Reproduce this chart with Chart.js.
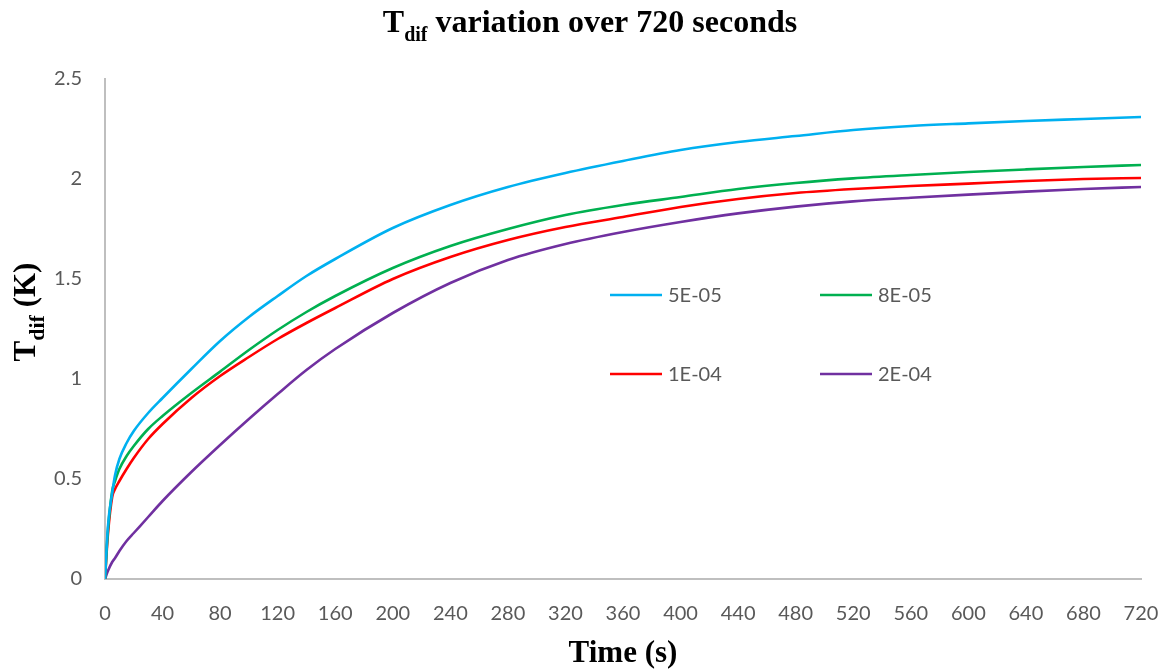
<!DOCTYPE html>
<html>
<head>
<meta charset="utf-8">
<script src="https://cdn.jsdelivr.net/npm/chart.js@4/dist/chart.umd.min.js"></script>
<style>
  html, body { margin: 0; padding: 0; background: #ffffff; }
  #wrap { width: 1169px; height: 670px; position: relative; }
</style>
</head>
<body>
<div id="wrap"><canvas id="c" width="1169" height="670"></canvas></div>
<script>
// ---- data ----
const timeSeconds = [0, 2, 5, 7, 10, 15, 20, 30, 40, 60, 80, 100, 120, 140, 160, 200, 240, 280, 320, 360, 400, 440, 480, 520, 560, 600, 640, 680, 720];
const series5E05 = [0, 0.26, 0.43, 0.52, 0.60, 0.68, 0.74, 0.83, 0.905, 1.05, 1.19, 1.31, 1.415, 1.515, 1.60, 1.755, 1.87, 1.96, 2.03, 2.09, 2.145, 2.185, 2.215, 2.245, 2.265, 2.278, 2.29, 2.30, 2.31];
const series8E05 = [0, 0.24, 0.44, 0.49, 0.55, 0.615, 0.665, 0.75, 0.815, 0.93, 1.037, 1.145, 1.245, 1.335, 1.415, 1.555, 1.665, 1.75, 1.82, 1.87, 1.91, 1.95, 1.98, 2.003, 2.02, 2.035, 2.048, 2.06, 2.07];
const series1E04 = [0, 0.22, 0.41, 0.45, 0.49, 0.55, 0.605, 0.70, 0.775, 0.905, 1.015, 1.11, 1.20, 1.28, 1.355, 1.50, 1.61, 1.695, 1.76, 1.81, 1.86, 1.90, 1.93, 1.95, 1.965, 1.977, 1.99, 2.0, 2.005];
const series2E04 = [0, 0.04, 0.085, 0.105, 0.14, 0.19, 0.23, 0.31, 0.39, 0.535, 0.67, 0.80, 0.925, 1.045, 1.15, 1.33, 1.48, 1.595, 1.675, 1.735, 1.785, 1.828, 1.862, 1.888, 1.906, 1.922, 1.937, 1.95, 1.96];
const seriesLabels = ['5E-05', '8E-05', '1E-04', '2E-04'];
const xTickStep = 40;
const yTickStep = 0.5;

const colors = ['#00B0F0', '#00B050', '#FF0000', '#7030A0'];
const allSeries = [series5E05, series8E05, series1E04, series2E04];

const datasets = allSeries.map((vals, i) => ({
  label: seriesLabels[i],
  data: timeSeconds.map((t, k) => ({ x: t, y: vals[k] })),
  borderColor: colors[i],
  backgroundColor: colors[i],
  borderWidth: 2.6,
  pointRadius: 0,
  pointHoverRadius: 0,
  fill: false,
  cubicInterpolationMode: 'monotone'
}));

const TICK_FONT = 'Lato, "Open Sans", sans-serif';
const SERIF = '"Liberation Serif", "DejaVu Serif", serif';

function drawSubText(ctx, x, y, size, main, sub, rest, align, subScale) {
  const big = 'bold ' + size + 'px ' + SERIF;
  const small = 'bold ' + Math.round(size * subScale) + 'px ' + SERIF;
  ctx.font = big; const w1 = ctx.measureText(main).width;
  const w3 = ctx.measureText(rest).width;
  ctx.font = small; const w2 = ctx.measureText(sub).width;
  const total = w1 + w2 + w3;
  const sx = align === 'center' ? x - total / 2 : x;
  ctx.fillStyle = '#000000';
  ctx.textBaseline = 'alphabetic';
  ctx.textAlign = 'left';
  ctx.font = big; ctx.fillText(main, sx, y);
  ctx.font = small; ctx.fillText(sub, sx + w1, y + size * 0.28);
  ctx.font = big; ctx.fillText(rest, sx + w1 + w2, y);
}

const decorPlugin = {
  id: 'decor',
  afterDraw(chart) {
    const ctx = chart.ctx;
    const area = chart.chartArea;
    ctx.save();
    // title
    drawSubText(ctx, 590, 32, 32, 'T', 'dif', ' variation over 720 seconds', 'center', 0.62);
    // y axis title (rotated)
    ctx.save();
    ctx.translate(35, 312);
    ctx.rotate(-Math.PI / 2);
    drawSubText(ctx, 0, 0, 31, 'T', 'dif', ' (K)', 'center', 0.7);
    ctx.restore();
    // x axis title
    ctx.font = 'bold 31px ' + SERIF;
    ctx.fillStyle = '#000000';
    ctx.textAlign = 'center';
    ctx.textBaseline = 'alphabetic';
    ctx.fillText('Time (s)', (area.left + area.right) / 2, 662);

    // legend (2 x 2, inside plot)
    const cols = [610, 820];
    const rows = [295, 374];
    ctx.font = '20px ' + TICK_FONT;
    ctx.textBaseline = 'middle';
    ctx.textAlign = 'left';
    chart.data.datasets.forEach((ds, i) => {
      const lx = cols[i % 2];
      const ly = rows[Math.floor(i / 2)];
      ctx.strokeStyle = ds.borderColor;
      ctx.lineWidth = 2.6;
      ctx.beginPath();
      ctx.moveTo(lx, ly);
      ctx.lineTo(lx + 52, ly);
      ctx.stroke();
      ctx.fillStyle = '#595959';
      ctx.fillText(ds.label, lx + 58, ly + 1);
    });
    ctx.restore();
  }
};

new Chart(document.getElementById('c'), {
  type: 'line',
  data: { datasets },
  plugins: [decorPlugin],
  options: {
    responsive: false,
    animation: false,
    events: [],
    layout: { padding: { top: 79, right: 28, left: 0, bottom: 0 } },
    plugins: {
      legend: { display: false },
      title: { display: false },
      tooltip: { enabled: false }
    },
    scales: {
      x: {
        type: 'linear',
        min: 0,
        max: 720,
        grid: { display: false, drawTicks: false },
        border: { display: true, color: '#BFBFBF', width: 2 },
        ticks: {
          stepSize: xTickStep,
          padding: 23,
          color: '#595959',
          font: { family: TICK_FONT, size: 20 },
          maxRotation: 0,
          autoSkip: false
        },
        afterFit(scale) { scale.height = 91; scale.paddingRight = 0; scale.paddingLeft = 0; }
      },
      y: {
        min: 0,
        max: 2.5,
        grid: { display: false, drawTicks: false },
        border: { display: true, color: '#BFBFBF', width: 2 },
        ticks: {
          stepSize: yTickStep,
          padding: 23,
          color: '#595959',
          font: { family: TICK_FONT, size: 20 },
          callback: (v) => String(Number(Number(v).toFixed(1)))
        },
        afterFit(scale) { scale.width = 105; scale.paddingTop = 0; scale.paddingBottom = 0; }
      }
    }
  }
});
</script>
</body>
</html>
